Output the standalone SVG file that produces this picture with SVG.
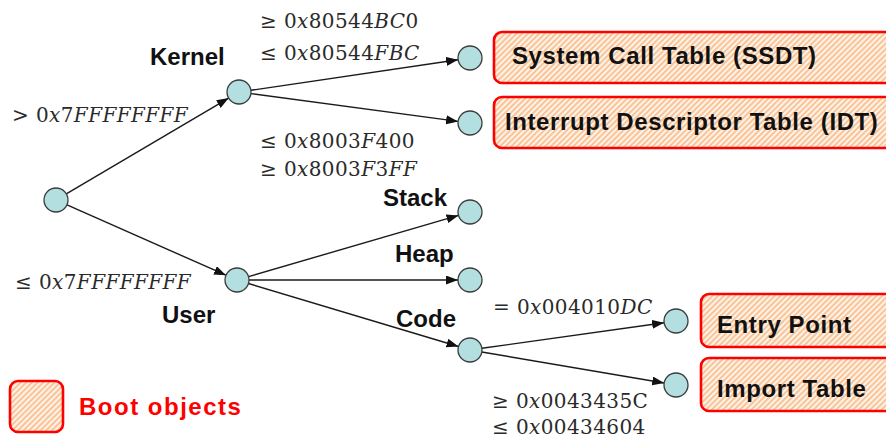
<svg xmlns="http://www.w3.org/2000/svg" width="886" height="439" viewBox="0 0 886 439">
  <defs>
    <marker id="arrow" markerWidth="13" markerHeight="10" refX="12" refY="4.5" orient="auto" markerUnits="userSpaceOnUse">
      <path d="M0,0 L12,4.5 L0,9 z" fill="#111"/>
    </marker>
    <pattern id="hatch" width="4" height="4" patternUnits="userSpaceOnUse" patternTransform="rotate(45)">
      <rect width="4" height="4" fill="#fff2e6"/>
      <rect width="2" height="4" fill="#f8c49a"/>
    </pattern>
    <style>
      .node { fill: #b3dfe0; stroke: #3c3c3c; stroke-width: 1.3; }
      .edge { stroke: #1a1a1a; stroke-width: 1.4; fill: none; marker-end: url(#arrow); }
      .box { fill: url(#hatch); stroke: #ff0000; stroke-width: 2.6; }
      .lbl { font-family: "Liberation Sans", Arial, sans-serif; font-weight: bold; font-size: 24px; fill: #111; }
      .boxlbl { font-family: "Liberation Sans", Arial, sans-serif; font-weight: bold; font-size: 24px; fill: #111; letter-spacing: 0.6px; }
      .math { font-family: "DejaVu Serif", "Liberation Serif", serif; font-size: 20px; fill: #2a2a2a; letter-spacing: 0.4px; }
      .it { font-style: italic; }
    </style>
  </defs>

  <!-- connectors -->
  <g id="edges">
    <line class="edge" x1="66.3" y1="193.9" x2="228.7" y2="98.1"/>
    <line class="edge" x1="67" y1="204.9" x2="226" y2="275.2"/>
    <line class="edge" x1="250.9" y1="90.3" x2="458.1" y2="59.7"/>
    <line class="edge" x1="250.9" y1="93.6" x2="458.1" y2="121.4"/>
    <line class="edge" x1="248.5" y1="276.6" x2="458.5" y2="215.4"/>
    <line class="edge" x1="249" y1="280" x2="458" y2="280"/>
    <line class="edge" x1="248.5" y1="283.5" x2="458.5" y2="346.5"/>
    <line class="edge" x1="481.9" y1="348.3" x2="664.1" y2="322.7"/>
    <line class="edge" x1="481.8" y1="352" x2="664.2" y2="383"/>
  </g>

  <!-- edge conditions -->
  <g id="conditions">
    <text class="math" x="12" y="122">&gt; 0<tspan class="it">x</tspan>7<tspan class="it">FFFFFFFF</tspan></text>
    <text class="math" x="15" y="289">≤ 0<tspan class="it">x</tspan>7<tspan class="it">FFFFFFFF</tspan></text>
    <text class="math" x="260" y="28">≥ 0<tspan class="it">x</tspan>80544<tspan class="it">BC</tspan>0</text>
    <text class="math" x="260" y="60">≤ 0<tspan class="it">x</tspan>80544<tspan class="it">FBC</tspan></text>
    <text class="math" x="260" y="148">≤ 0<tspan class="it">x</tspan>8003<tspan class="it">F</tspan>400</text>
    <text class="math" x="260" y="176">≥ 0<tspan class="it">x</tspan>8003<tspan class="it">F</tspan>3<tspan class="it">FF</tspan></text>
    <text class="math" x="493" y="314">= 0<tspan class="it">x</tspan>004010<tspan class="it">DC</tspan></text>
    <text class="math" x="492" y="408">≥ 0<tspan class="it">x</tspan>0043435C</text>
    <text class="math" x="492" y="434">≤ 0<tspan class="it">x</tspan>00434604</text>
  </g>

  <g id="root"><circle class="node" cx="56" cy="200" r="12"/></g>

  <g id="kernel">
    <circle class="node" cx="239" cy="92" r="12"/>
    <text class="lbl" x="150" y="65">Kernel</text>
  </g>

  <g id="user">
    <circle class="node" cx="237" cy="280" r="12"/>
    <text class="lbl" x="162" y="323">User</text>
  </g>

  <g id="ssdt">
    <circle class="node" cx="470" cy="58" r="12"/>
    <rect class="box" x="494" y="32" width="420" height="51" rx="8"/>
    <text class="boxlbl" x="512" y="64">System Call Table (SSDT)</text>
  </g>

  <g id="idt">
    <circle class="node" cx="470" cy="123" r="12"/>
    <rect class="box" x="494" y="97" width="420" height="51" rx="8"/>
    <text class="boxlbl" x="505" y="130">Interrupt Descriptor Table (IDT)</text>
  </g>

  <g id="stack">
    <circle class="node" cx="470" cy="212" r="12"/>
    <text class="lbl" x="383" y="206">Stack</text>
  </g>

  <g id="heap">
    <circle class="node" cx="470" cy="280" r="12"/>
    <text class="lbl" x="395" y="262">Heap</text>
  </g>

  <g id="code">
    <circle class="node" cx="470" cy="350" r="12"/>
    <text class="lbl" x="396" y="327">Code</text>
  </g>

  <g id="entry">
    <circle class="node" cx="676" cy="321" r="12"/>
    <rect class="box" x="701" y="294" width="220" height="53" rx="8"/>
    <text class="boxlbl" x="717" y="333">Entry Point</text>
  </g>

  <g id="import">
    <circle class="node" cx="676" cy="385" r="12"/>
    <rect class="box" x="701" y="358" width="220" height="53" rx="8"/>
    <text class="boxlbl" x="717" y="397">Import Table</text>
  </g>

  <g id="legend">
    <rect class="box" x="10" y="381" width="53" height="51" rx="8"/>
    <text class="lbl" x="79" y="415" style="fill:#ff0000;letter-spacing:1.5px">Boot objects</text>
  </g>
</svg>
